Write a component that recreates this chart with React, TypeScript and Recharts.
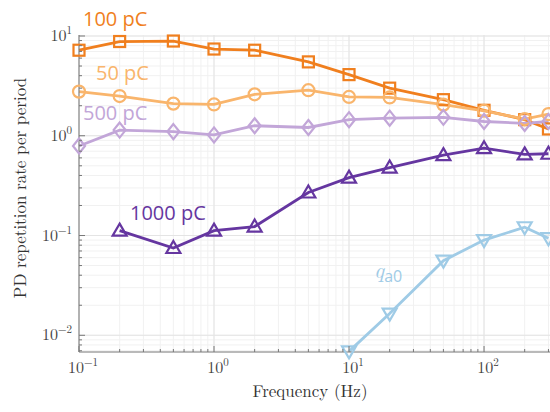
import { LineChart, Line, XAxis, YAxis, CartesianGrid } from 'recharts'

const FREQS = [0.1, 0.2, 0.5, 1, 2, 5, 10, 20, 50, 100, 200, 300]
const PC100 = [7.2, 8.8, 8.9, 7.4, 7.2, 5.5, 4.1, 3.0, 2.3, 1.8, 1.45, 1.17]
const PC50 = [2.77, 2.5, 2.1, 2.06, 2.6, 2.86, 2.45, 2.42, 2.05, 1.78, 1.47, 1.65]
const PC500 = [0.79, 1.14, 1.1, 1.02, 1.26, 1.21, 1.45, 1.5, 1.53, 1.39, 1.33, 1.39]
const PC1000 = [null, 0.112, 0.075, 0.112, 0.123, 0.27, 0.38, 0.48, 0.64, 0.75, 0.65, 0.66]
const QA0 = [null, null, null, null, null, null, 0.0069, 0.0165, 0.056, 0.09, 0.121, 0.094]

const X_MAJOR = [0.1, 1, 10, 100]
const X_EXP = ['−1', '0', '1', '2']
const Y_MAJOR = [0.01, 0.1, 1, 10]
const Y_EXP = ['−2', '−1', '0', '1']

const minorTicks = (decades: number[]) =>
  decades.flatMap((d) => [1, 2, 3, 4, 5, 6, 7, 8, 9].map((k) => +(d * k).toPrecision(3)))
const X_TICKS = minorTicks([0.1, 1, 10, 100]).filter((v) => v <= 300)
const Y_TICKS = minorTicks([0.001, 0.01, 0.1, 1, 10]).filter((v) => v >= 0.007 && v <= 10)

const data = FREQS.map((f, i) => ({
  f,
  pc100: PC100[i],
  pc50: PC50[i],
  pc500: PC500[i],
  pc1000: PC1000[i],
  qa0: QA0[i],
}))

const C100 = '#f07f1e'
const C50 = '#f9b56c'
const C500 = '#c2a6d8'
const C1000 = '#6536a0'
const CQA = '#9fcbe6'

const TICK_COLOR = '#444'
const SERIF = '"Latin Modern Roman", "DejaVu Serif", "Liberation Serif", serif'

function YTick({ x, y, payload }: any) {
  const i = Y_MAJOR.findIndex((v) => Math.abs(v - payload.value) < 1e-9)
  const major = i >= 0
  return (
    <g>
      <line x1={x} x2={x + (major ? 6 : 3)} y1={y} y2={y} stroke="#777" />
      {major && (
        <text x={x - 7} y={y + 5} textAnchor="end" fill={TICK_COLOR} fontFamily={SERIF} fontSize={16}>
          10<tspan dy={-7} fontSize={11}>{Y_EXP[i]}</tspan>
        </text>
      )}
    </g>
  )
}

function XTick({ x, y, payload }: any) {
  const i = X_MAJOR.findIndex((v) => Math.abs(v - payload.value) < 1e-9)
  const major = i >= 0
  return (
    <g>
      <line x1={x} x2={x} y1={y} y2={y - (major ? 6 : 3)} stroke="#777" />
      {major && (
        <text x={x + 4} y={y + 21} textAnchor="middle" fill={TICK_COLOR} fontFamily={SERIF} fontSize={16}>
          10<tspan dy={-7} fontSize={11}>{X_EXP[i]}</tspan>
        </text>
      )}
    </g>
  )
}

const square = (color: string) => (p: any) =>
  p.cy == null ? <g key={p.key} /> : (
    <rect key={p.key} x={p.cx - 5.5} y={p.cy - 5.5} width={11} height={11} fill="none" stroke={color} strokeWidth={2.2} />
  )
const circle = (color: string) => (p: any) =>
  p.cy == null ? <g key={p.key} /> : (
    <circle key={p.key} cx={p.cx} cy={p.cy} r={6} fill="none" stroke={color} strokeWidth={2.2} />
  )
const diamond = (color: string) => (p: any) =>
  p.cy == null ? <g key={p.key} /> : (
    <polygon
      key={p.key}
      points={`${p.cx},${p.cy - 7.5} ${p.cx + 6},${p.cy} ${p.cx},${p.cy + 7.5} ${p.cx - 6},${p.cy}`}
      fill="none"
      stroke={color}
      strokeWidth={2.2}
    />
  )
const triUp = (color: string) => (p: any) =>
  p.cy == null ? <g key={p.key} /> : (
    <polygon
      key={p.key}
      points={`${p.cx},${p.cy - 7} ${p.cx + 7},${p.cy + 5} ${p.cx - 7},${p.cy + 5}`}
      fill="none"
      stroke={color}
      strokeWidth={2.2}
    />
  )
const triDown = (color: string) => (p: any) =>
  p.cy == null ? <g key={p.key} /> : (
    <polygon
      key={p.key}
      points={`${p.cx},${p.cy + 7} ${p.cx + 7},${p.cy - 5} ${p.cx - 7},${p.cy - 5}`}
      fill="none"
      stroke={color}
      strokeWidth={2.2}
    />
  )

const LABEL_FONT = '"Open Sans", sans-serif'

export default function App() {
  return (
    <div style={{ position: 'absolute', left: 0, top: 0, width: 550, height: 412, overflow: 'hidden', background: '#fff' }}>
      <LineChart width={550} height={412} data={data} margin={{ top: 35, right: 0, bottom: 0, left: 0 }}>
        <CartesianGrid stroke="#f1f1f1" verticalValues={X_TICKS} horizontalValues={Y_TICKS} />
        <CartesianGrid stroke="#e4e4e4" verticalValues={X_MAJOR} horizontalValues={Y_MAJOR} />
        <XAxis
          dataKey="f"
          type="number"
          scale="log"
          domain={[0.1, 308]}
          ticks={X_TICKS}
          interval={0}
          tickSize={0}
          tickMargin={0}
          tick={<XTick />}
          stroke="#777"
          height={60}
        />
        <YAxis
          type="number"
          scale="log"
          domain={[0.0068, 10.23]}
          ticks={Y_TICKS}
          interval={0}
          tickSize={0}
          tickMargin={0}
          tick={<YTick />}
          stroke="#777"
          width={79}
        />
        <Line dataKey="pc100" stroke={C100} strokeWidth={2.8} dot={square(C100)} isAnimationActive={false} />
        <Line dataKey="pc50" stroke={C50} strokeWidth={2.8} dot={circle(C50)} isAnimationActive={false} />
        <Line dataKey="pc500" stroke={C500} strokeWidth={2.8} dot={diamond(C500)} isAnimationActive={false} />
        <Line dataKey="pc1000" stroke={C1000} strokeWidth={2.8} dot={triUp(C1000)} isAnimationActive={false} />
        <Line dataKey="qa0" stroke={CQA} strokeWidth={2.8} dot={triDown(CQA)} isAnimationActive={false} />
      </LineChart>
      <svg width={550} height={412} style={{ position: 'absolute', left: 0, top: 0, pointerEvents: 'none' }}>
        <text x={83} y={26} fill={C100} fontFamily={LABEL_FONT} fontSize={20}>100 pC</text>
        <text x={96} y={80} fill={C50} fontFamily={LABEL_FONT} fontSize={20}>50 pC</text>
        <text x={83} y={120} fill={C500} fontFamily={LABEL_FONT} fontSize={20}>500 pC</text>
        <text x={130} y={220} fill={C1000} fontFamily={LABEL_FONT} fontSize={20}>1000 pC</text>
        <text x={374} y={278} fill={CQA} fontFamily={SERIF} fontSize={22} fontStyle="italic">
          q<tspan dy={4} fontSize={16} fontStyle="normal" fontFamily={LABEL_FONT}>a0</tspan>
        </text>
        <text x={310} y={397} textAnchor="middle" fill="#333" fontFamily={SERIF} fontSize={17}>
          Frequency (Hz)
        </text>
        <text
          x={0}
          y={0}
          transform="translate(26, 188) rotate(-90)"
          textAnchor="middle"
          fill="#333"
          fontFamily={SERIF}
          fontSize={17}
        >
          PD repetition rate per period
        </text>
      </svg>
    </div>
  )
}
